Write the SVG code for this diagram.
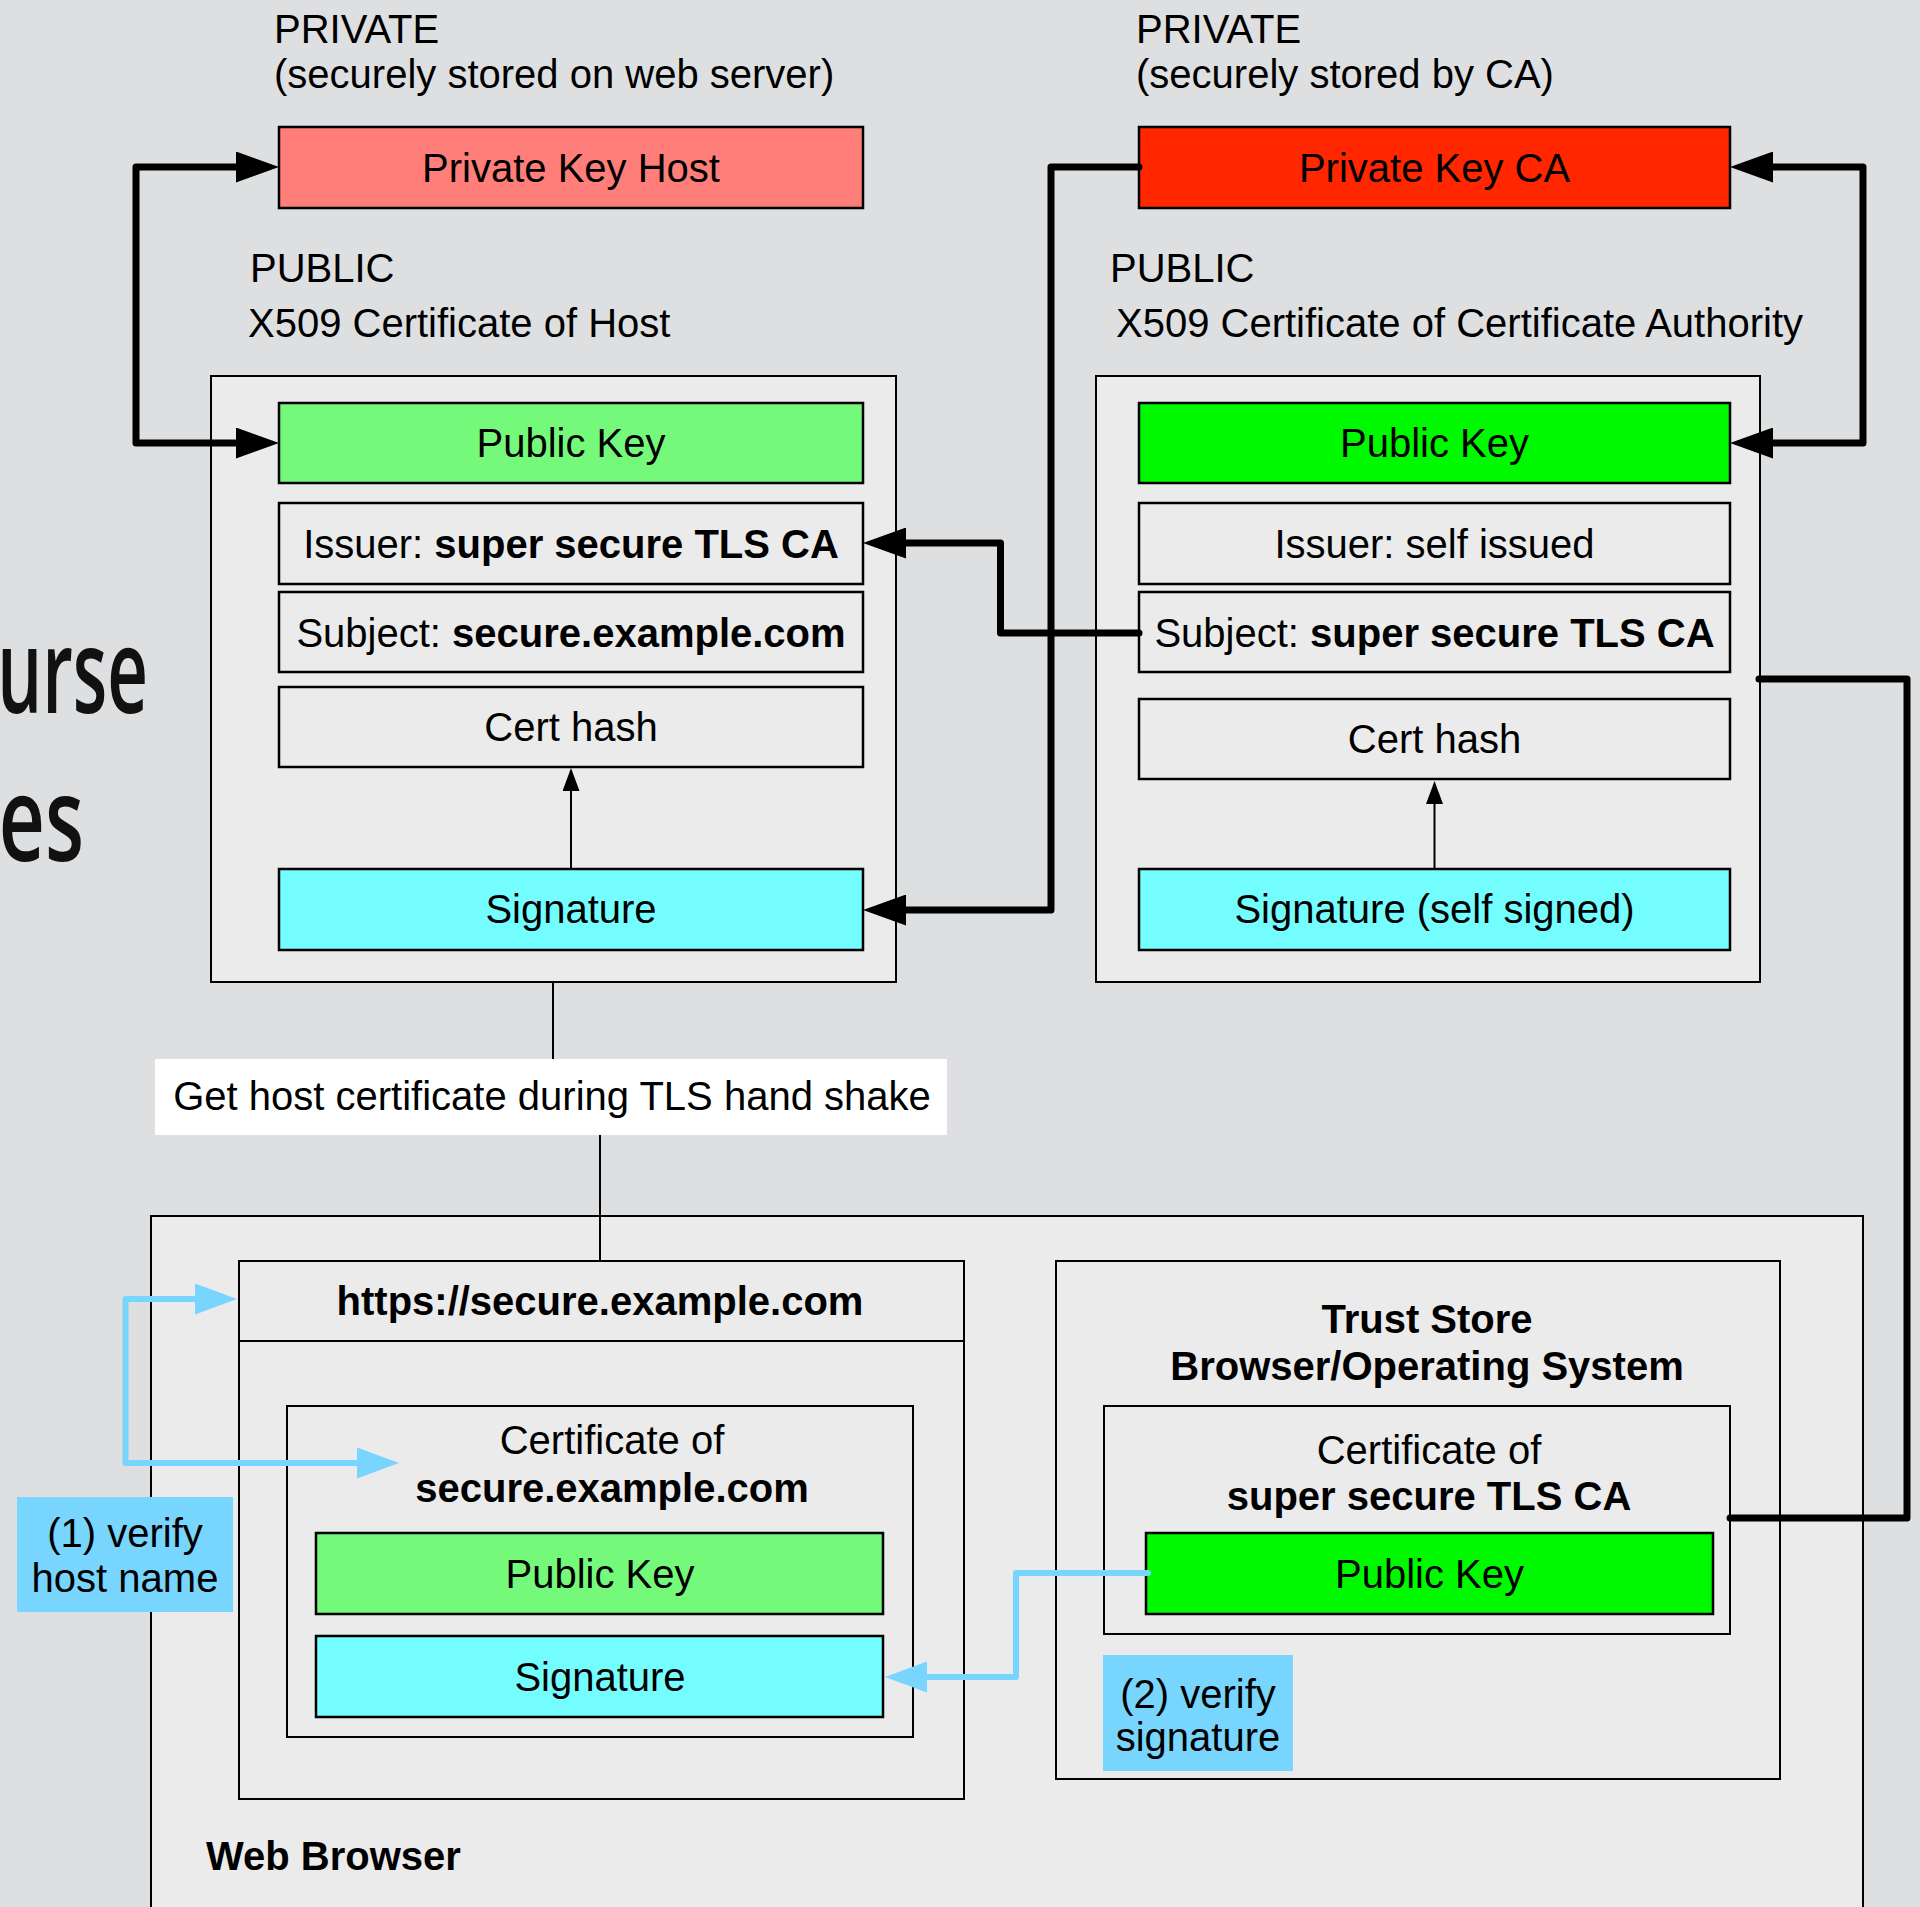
<svg xmlns="http://www.w3.org/2000/svg" width="1920" height="1907" viewBox="0 0 1920 1907">
  <style>
    .t { font-family: "Liberation Sans", Arial, Helvetica, sans-serif; font-size: 40px; fill: #000; }
    .c { text-anchor: middle; }
    .b { font-weight: bold; }
    .frame { fill: #ebebeb; stroke: #000; stroke-width: 2; }
    .field { fill: #ebebeb; stroke: #000; stroke-width: 2.5; }
    .pkhost { fill: #ff7e79; stroke: #000; stroke-width: 2.5; }
    .pkca { fill: #ff2600; stroke: #000; stroke-width: 2.5; }
    .pub { fill: #75f97a; stroke: #000; stroke-width: 2.5; }
    .pubca { fill: #00f900; stroke: #000; stroke-width: 2.5; }
    .sig { fill: #73fdff; stroke: #000; stroke-width: 2.5; }
    .note { fill: #78d5fe; }
    .thick { fill: none; stroke: #000; stroke-width: 7; stroke-linejoin: round; stroke-linecap: round; }
    .thin { fill: none; stroke: #000; stroke-width: 2; }
    .blue { fill: none; stroke: #78d5fe; stroke-width: 6; stroke-linejoin: round; stroke-linecap: round; }
    .deck { font-family: "Open Sans", "DejaVu Sans", sans-serif; font-weight: 600; font-size: 118px; fill: #111; text-anchor: end; }
  </style>
  <defs>
    <marker id="headBlack" markerUnits="userSpaceOnUse" viewBox="0 0 43 31" markerWidth="43" markerHeight="31" refX="0" refY="15.5" orient="auto-start-reverse">
      <path d="M0,0 L43,15.5 L0,31 Z" fill="#000"/>
    </marker>
    <marker id="headSmall" markerUnits="userSpaceOnUse" viewBox="0 0 23 17" markerWidth="23" markerHeight="17" refX="0" refY="8.5" orient="auto">
      <path d="M0,0 L23,8.5 L0,17 Z" fill="#000"/>
    </marker>
    <marker id="headBlue" markerUnits="userSpaceOnUse" viewBox="0 0 42 31" markerWidth="42" markerHeight="31" refX="0" refY="15.5" orient="auto-start-reverse">
      <path d="M0,0 L42,15.5 L0,31 Z" fill="#78d5fe"/>
    </marker>
  </defs>

  <!-- backdrop -->
  <rect x="0" y="0" width="1920" height="1907" fill="#dedfe1"/>
  <text class="deck" transform="translate(148,713) scale(0.6,1)" x="0" y="0">urse</text>
  <text class="deck" transform="translate(84,861) scale(0.68,1)" x="0" y="0">es</text>

  <!-- headings -->
  <g id="heading-host">
    <text class="t" x="274" y="43">PRIVATE</text>
    <text class="t" x="274" y="88">(securely stored on web server)</text>
    <text class="t" x="250" y="282">PUBLIC</text>
    <text class="t" x="248" y="337">X509 Certificate of Host</text>
  </g>
  <g id="heading-ca">
    <text class="t" x="1136" y="43">PRIVATE</text>
    <text class="t" x="1136" y="88">(securely stored by CA)</text>
    <text class="t" x="1110" y="282">PUBLIC</text>
    <text class="t" x="1116" y="337">X509 Certificate of Certificate Authority</text>
  </g>

  <!-- private keys -->
  <g id="private-key-host">
    <rect class="pkhost" x="279" y="127" width="584" height="81"/>
    <text class="t c" x="571" y="182">Private Key Host</text>
  </g>
  <g id="private-key-ca">
    <rect class="pkca" x="1139" y="127" width="591" height="81"/>
    <text class="t c" x="1434.5" y="182">Private Key CA</text>
  </g>

  <!-- host certificate -->
  <g id="host-cert">
    <rect class="frame" x="211" y="376" width="685" height="606"/>
    <g id="host-pubkey">
      <rect class="pub" x="279" y="403" width="584" height="80"/>
      <text class="t c" x="571" y="457">Public Key</text>
    </g>
    <g id="host-issuer">
      <rect class="field" x="279" y="503" width="584" height="81"/>
      <text class="t c" x="571" y="558">Issuer: <tspan class="b">super secure TLS CA</tspan></text>
    </g>
    <g id="host-subject">
      <rect class="field" x="279" y="592" width="584" height="80"/>
      <text class="t c" x="571" y="647">Subject: <tspan class="b">secure.example.com</tspan></text>
    </g>
    <g id="host-hash">
      <rect class="field" x="279" y="687" width="584" height="80"/>
      <text class="t c" x="571" y="741">Cert hash</text>
    </g>
    <g id="host-signature">
      <rect class="sig" x="279" y="869" width="584" height="81"/>
      <text class="t c" x="571" y="923">Signature</text>
    </g>
  </g>

  <!-- CA certificate -->
  <g id="ca-cert">
    <rect class="frame" x="1096" y="376" width="664" height="606"/>
    <g id="ca-pubkey">
      <rect class="pubca" x="1139" y="403" width="591" height="80"/>
      <text class="t c" x="1434.5" y="457">Public Key</text>
    </g>
    <g id="ca-issuer">
      <rect class="field" x="1139" y="503" width="591" height="81"/>
      <text class="t c" x="1434.5" y="558">Issuer: self issued</text>
    </g>
    <g id="ca-subject">
      <rect class="field" x="1139" y="592" width="591" height="80"/>
      <text class="t c" x="1434.5" y="647">Subject: <tspan class="b">super secure TLS CA</tspan></text>
    </g>
    <g id="ca-hash">
      <rect class="field" x="1139" y="699" width="591" height="80"/>
      <text class="t c" x="1434.5" y="753">Cert hash</text>
    </g>
    <g id="ca-signature">
      <rect class="sig" x="1139" y="869" width="591" height="81"/>
      <text class="t c" x="1434.5" y="923">Signature (self signed)</text>
    </g>
  </g>

  <!-- web browser -->
  <g id="web-browser">
    <rect class="frame" x="151" y="1216" width="1712" height="720"/>
    <text class="t b" x="206" y="1870">Web Browser</text>
  </g>
  <g id="site">
    <rect class="frame" x="239" y="1261" width="725" height="538"/>
    <line class="thin" x1="239" y1="1341" x2="964" y2="1341"/>
    <text class="t c b" x="600" y="1315">https://secure.example.com</text>
    <g id="site-cert">
      <rect class="frame" x="287" y="1406" width="626" height="331"/>
      <text class="t c" x="612" y="1454">Certificate of</text>
      <text class="t c b" x="612" y="1502">secure.example.com</text>
      <g id="site-pubkey">
        <rect class="pub" x="316" y="1533" width="567" height="81"/>
        <text class="t c" x="600" y="1588">Public Key</text>
      </g>
      <g id="site-signature">
        <rect class="sig" x="316" y="1636" width="567" height="81"/>
        <text class="t c" x="600" y="1691">Signature</text>
      </g>
    </g>
  </g>
  <g id="trust-store">
    <rect class="frame" x="1056" y="1261" width="724" height="518"/>
    <text class="t c b" x="1427" y="1333">Trust Store</text>
    <text class="t c b" x="1427" y="1380">Browser/Operating System</text>
    <g id="trusted-ca-cert">
      <rect class="frame" x="1104" y="1406" width="626" height="228"/>
      <text class="t c" x="1429" y="1464">Certificate of</text>
      <text class="t c b" x="1429" y="1510">super secure TLS CA</text>
      <g id="trusted-pubkey">
        <rect class="pubca" x="1146" y="1533" width="567" height="81"/>
        <text class="t c" x="1429.5" y="1588">Public Key</text>
      </g>
    </g>
  </g>

  <!-- connectors -->
  <g id="connectors">
    <path class="thick" d="M236,167 H136 V443 H236" marker-start="url(#headBlack)" marker-end="url(#headBlack)"/>
    <path class="thick" d="M1773,167 H1863 V443 H1773" marker-start="url(#headBlack)" marker-end="url(#headBlack)"/>
    <path class="thick" d="M1139,633 H1000.5 V543 H906" marker-end="url(#headBlack)"/>
    <path class="thick" d="M1139,167 H1051 V910 H906" marker-end="url(#headBlack)"/>
    <path class="thick" d="M1759,679 H1907 V1518 H1730"/>
    <path class="thin" d="M571,869 V791" marker-end="url(#headSmall)"/>
    <path class="thin" d="M1434.5,869 V804" marker-end="url(#headSmall)"/>
    <path class="thin" d="M553,982 V1059"/>
    <path class="thin" d="M600,1135 V1261"/>
    <path class="blue" d="M195,1299 H125.5 V1463 H357" marker-start="url(#headBlue)" marker-end="url(#headBlue)"/>
    <path class="blue" d="M1148,1573 H1016 V1677 H927" marker-end="url(#headBlue)"/>
  </g>

  <!-- annotations -->
  <g id="handshake-label">
    <rect x="155" y="1059" width="792" height="76" fill="#fff"/>
    <text class="t c" x="552" y="1110">Get host certificate during TLS hand shake</text>
  </g>
  <g id="verify-host-label">
    <rect class="note" x="17" y="1497" width="216" height="115"/>
    <text class="t c" x="125" y="1547">(1) verify</text>
    <text class="t c" x="125" y="1592">host name</text>
  </g>
  <g id="verify-signature-label">
    <rect class="note" x="1103" y="1655" width="190" height="116"/>
    <text class="t c" x="1198" y="1708">(2) verify</text>
    <text class="t c" x="1198" y="1751">signature</text>
  </g>
</svg>
